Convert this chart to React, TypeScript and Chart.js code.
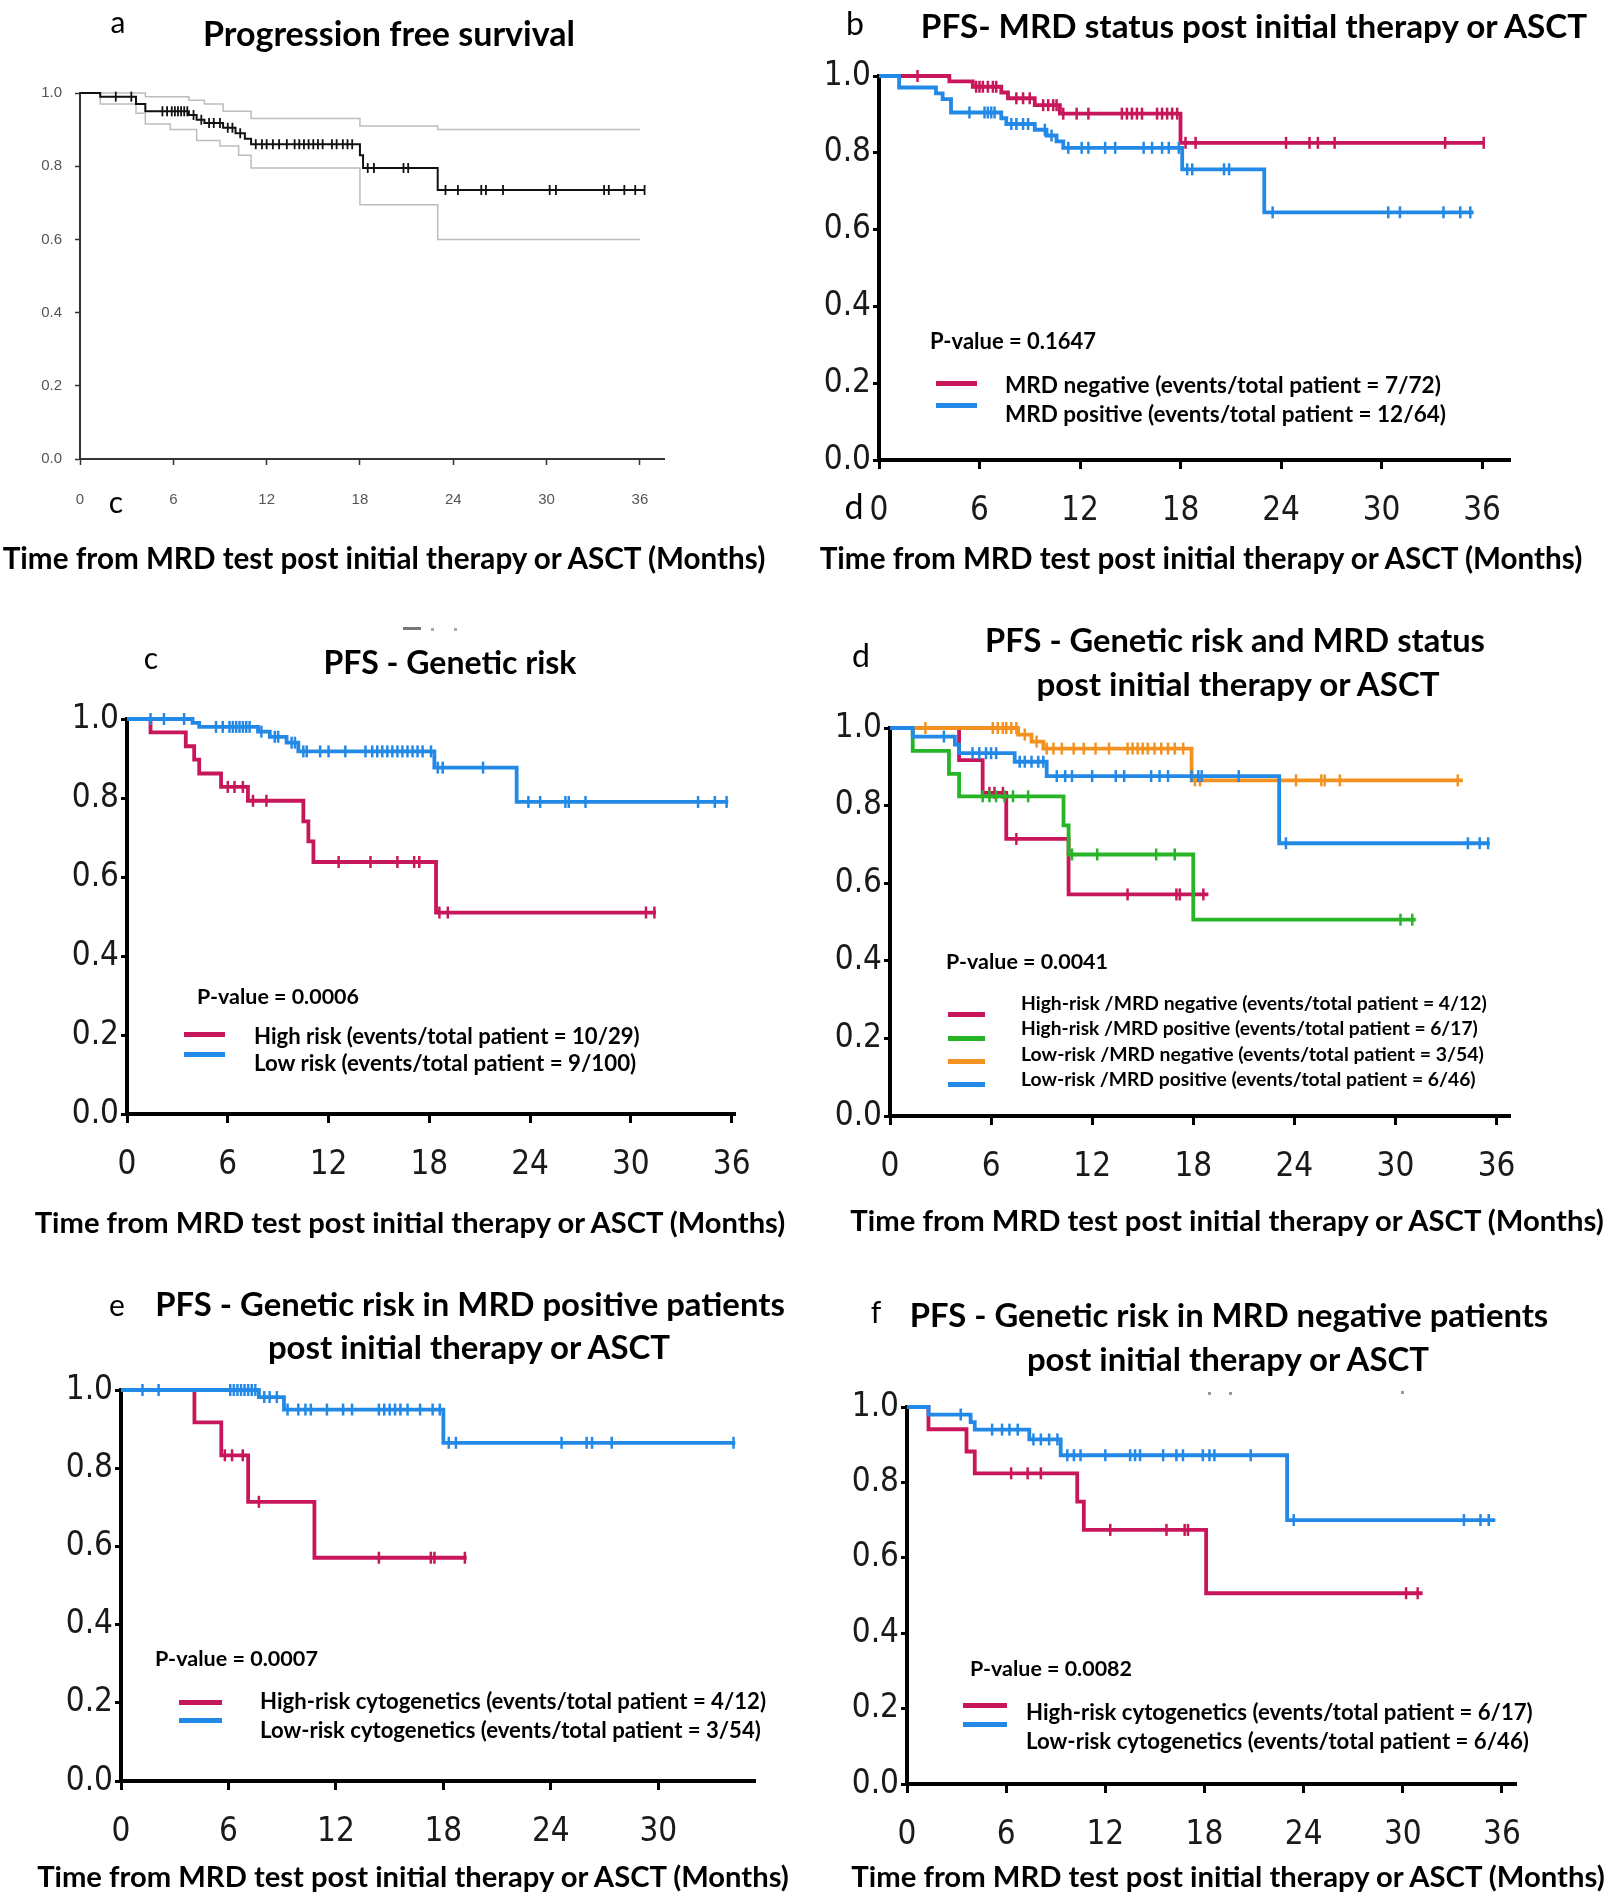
import React, { useEffect, useRef } from 'react';
import { Chart, registerables } from 'chart.js';

Chart.register(...registerables);

const PAGE_W = 1609;
const PAGE_H = 1894;
const YW = 80;
const XH = 90;

const RED = '#c8165a';
const BLUE = '#2389e6';
const GREEN = '#27b427';
const ORANGE = '#f39220';
const BLACK = '#111111';
const CI_GRAY = '#bdbdbd';
const SANS = "Lato, 'Open Sans', 'DejaVu Sans', sans-serif";

// ---------- Panel a: overall PFS ----------
const aEventTimes = [1.3, 3.6, 4.2, 7.0, 7.5, 8.0, 9.2, 10.0, 10.6, 11.0, 18.0, 18.2, 23.0];
const aEventSurv = [0.99, 0.97, 0.95, 0.94, 0.927, 0.918, 0.905, 0.89, 0.875, 0.86, 0.83, 0.795, 0.735];
const aCensorTimes = [2.3, 3.3, 5.3, 5.6, 5.9, 6.1, 6.3, 6.5, 6.7, 6.9, 7.3, 7.8, 8.3, 8.6, 9.0, 9.5, 9.8, 10.3, 11.3, 11.7, 12.0, 12.4, 12.8, 13.3, 13.8, 14.1, 14.4, 14.7, 15.0, 15.3, 15.6, 16.2, 16.5, 16.9, 17.2, 17.5, 18.5, 18.9, 20.8, 21.1, 23.5, 24.3, 25.8, 26.1, 27.2, 30.2, 30.6, 33.7, 34.0, 35.0, 35.7, 36.3];
const aEnd = 36.3;
const aUpperTimes = [4.2, 7.0, 8.0, 9.2, 11.0, 18.0, 23.0];
const aUpperSurv = [0.99, 0.98, 0.97, 0.95, 0.93, 0.91, 0.9];
const aLowerTimes = [1.3, 3.6, 4.2, 5.8, 7.5, 9.0, 10.2, 11.0, 18.0, 23.0];
const aLowerSurv = [0.97, 0.945, 0.915, 0.9, 0.87, 0.855, 0.83, 0.795, 0.695, 0.6];
const aCIEnd = 36.0;

// ---------- Panel b: MRD status ----------
const bNegTimes = [4.2, 5.6, 7.3, 7.7, 9.3, 10.8, 18.0];
const bNegSurv = [0.986, 0.972, 0.957, 0.942, 0.924, 0.902, 0.826];
const bNegCensor = [2.3, 5.8, 6.0, 6.2, 6.5, 6.8, 7.0, 8.2, 8.6, 9.0, 9.8, 10.1, 10.4, 10.6, 11.0, 11.8, 12.5, 14.5, 14.8, 15.1, 15.4, 15.7, 16.6, 16.9, 17.2, 17.5, 17.8, 18.3, 18.9, 24.3, 25.7, 26.2, 27.2, 33.8, 36.1];
const bNegEnd = 36.1;
const bPosTimes = [1.2, 3.4, 3.8, 4.3, 7.3, 7.6, 9.3, 10.0, 10.6, 11.0, 18.1, 23.0];
const bPosSurv = [0.97, 0.955, 0.94, 0.905, 0.89, 0.875, 0.86, 0.845, 0.83, 0.813, 0.757, 0.645];
const bPosCensor = [5.4, 6.3, 6.5, 6.7, 6.9, 7.9, 8.2, 8.6, 8.9, 9.9, 10.3, 11.3, 12.1, 12.5, 13.5, 14.1, 15.8, 16.3, 16.9, 17.3, 17.9, 18.4, 18.7, 20.6, 20.9, 23.5, 30.4, 31.1, 33.7, 34.7, 35.3];
const bPosEnd = 35.5;

// ---------- Panel c: genetic risk ----------
const cHighTimes = [1.4, 3.5, 4.0, 4.3, 5.6, 7.2, 10.5, 10.8, 11.1, 18.4];
const cHighSurv = [0.966, 0.931, 0.897, 0.862, 0.828, 0.793, 0.741, 0.69, 0.638, 0.51];
const cHighCensor = [6.0, 6.4, 6.9, 7.5, 8.3, 12.6, 14.5, 16.1, 17.1, 17.4, 18.6, 19.1, 30.9, 31.4];
const cHighEnd = 31.5;
const cLowTimes = [3.9, 4.3, 7.8, 8.5, 9.5, 10.2, 18.3, 23.2];
const cLowSurv = [0.99, 0.98, 0.968, 0.955, 0.94, 0.918, 0.877, 0.79];
const cLowCensor = [1.4, 2.2, 3.4, 5.3, 5.7, 6.1, 6.3, 6.5, 6.7, 6.9, 7.1, 7.3, 8.0, 8.8, 9.0, 9.8, 10.0, 10.5, 10.7, 11.5, 12.0, 13.0, 14.2, 14.6, 14.9, 15.2, 15.5, 15.8, 16.1, 16.4, 16.7, 17.0, 17.3, 17.6, 18.1, 18.5, 18.8, 21.2, 23.9, 24.6, 26.1, 26.3, 27.3, 34.0, 35.0, 35.7];
const cLowEnd = 35.8;

// ---------- Panel d: genetic risk x MRD ----------
const dHnTimes = [4.1, 5.5, 6.9, 10.6];
const dHnSurv = [0.917, 0.833, 0.714, 0.571];
const dHnCensor = [5.9, 6.2, 6.7, 7.5, 14.1, 17.0, 17.2, 18.6];
const dHnEnd = 18.9;
const dHpTimes = [1.35, 3.5, 4.1, 10.3, 10.6, 18.0];
const dHpSurv = [0.941, 0.882, 0.824, 0.749, 0.674, 0.506];
const dHpCensor = [5.5, 5.9, 6.3, 6.8, 7.3, 8.2, 10.8, 12.3, 15.8, 16.9, 30.3, 31.0];
const dHpEnd = 31.2;
const dLnTimes = [7.6, 8.4, 9.1, 17.9];
const dLnSurv = [0.983, 0.965, 0.947, 0.865];
const dLnCensor = [2.1, 6.1, 6.4, 6.7, 6.9, 7.2, 7.5, 8.0, 8.7, 9.3, 9.7, 10.2, 10.9, 11.5, 12.2, 13.0, 14.1, 14.4, 14.7, 15.0, 15.3, 15.7, 16.1, 16.5, 16.9, 17.4, 18.1, 18.4, 24.1, 25.6, 25.8, 26.7, 33.7];
const dLnEnd = 34.0;
const dLpTimes = [1.35, 3.85, 4.1, 7.4, 9.3, 23.1];
const dLpSurv = [0.978, 0.957, 0.935, 0.913, 0.876, 0.703];
const dLpCensor = [3.2, 4.9, 5.3, 5.7, 6.0, 6.3, 7.7, 8.0, 8.4, 8.8, 9.1, 9.9, 10.4, 10.8, 12.0, 13.4, 13.9, 15.5, 16.0, 16.5, 17.9, 18.3, 18.5, 20.7, 23.5, 34.3, 35.0, 35.5];
const dLpEnd = 35.6;

// ---------- Panel e: genetic risk in MRD positive ----------
const eHighTimes = [4.1, 5.6, 7.1, 10.8];
const eHighSurv = [0.917, 0.833, 0.714, 0.571];
const eHighCensor = [5.8, 6.2, 6.8, 7.7, 14.4, 17.3, 17.5, 19.2];
const eHighEnd = 19.3;
const eLowTimes = [7.7, 9.1, 18.0];
const eLowSurv = [0.982, 0.95, 0.865];
const eLowCensor = [1.2, 2.1, 6.1, 6.3, 6.5, 6.7, 6.9, 7.1, 7.3, 7.5, 8.0, 8.3, 8.7, 9.3, 9.9, 10.3, 10.6, 11.5, 12.4, 12.9, 14.4, 14.7, 15.0, 15.3, 15.6, 16.0, 16.7, 17.4, 17.8, 18.3, 18.7, 24.6, 26.0, 26.3, 27.4, 34.2];
const eLowEnd = 34.3;

// ---------- Panel f: genetic risk in MRD negative ----------
const fHighTimes = [1.3, 3.6, 4.1, 10.3, 10.7, 18.1];
const fHighSurv = [0.941, 0.882, 0.824, 0.749, 0.674, 0.506];
const fHighCensor = [6.3, 7.3, 8.1, 12.3, 15.7, 16.8, 17.0, 30.2, 30.9];
const fHighEnd = 31.2;
const fLowTimes = [1.3, 3.85, 4.1, 7.4, 9.3, 23.0];
const fLowSurv = [0.98, 0.96, 0.94, 0.914, 0.872, 0.7];
const fLowCensor = [3.25, 5.15, 5.75, 6.2, 6.7, 7.65, 8.1, 8.6, 9.1, 9.7, 10.1, 10.5, 12.0, 13.5, 13.8, 14.1, 15.5, 16.3, 16.7, 17.9, 18.3, 18.6, 20.8, 23.4, 33.7, 34.7, 35.2];
const fLowEnd = 35.6;

// ---------- helpers ----------
function survAt(t: number, times: number[], surv: number[]) {
  let s = 1;
  for (let i = 0; i < times.length; i++) if (times[i] <= t) s = surv[i];
  return s;
}
function kmPoints(times: number[], surv: number[], end: number) {
  const pts = [{ x: 0, y: 1 }];
  times.forEach((t, i) => pts.push({ x: t, y: surv[i] }));
  pts.push({ x: end, y: surv[surv.length - 1] });
  return pts;
}
function curve(times: number[], surv: number[], end: number, color: string, width: number) {
  return {
    type: 'line',
    data: kmPoints(times, surv, end),
    borderColor: color,
    backgroundColor: color,
    borderWidth: width,
    stepped: 'before',
    pointRadius: 0,
    fill: false,
    clip: false,
    tension: 0,
  };
}
function censors(cens: number[], times: number[], surv: number[], color: string, radius: number, width: number) {
  return {
    type: 'line',
    data: cens.map((t) => ({ x: t, y: survAt(t, times, surv) })),
    showLine: false,
    pointStyle: 'line',
    pointRotation: 90,
    pointRadius: radius,
    pointBorderColor: color,
    pointBackgroundColor: color,
    pointBorderWidth: width,
    clip: false,
  };
}

interface PanelSpec {
  left: number;
  top: number;
  right: number;
  bottom: number;
  xMax: number;
  big: boolean;
  datasets: any[];
}

function kmPair(times: number[], surv: number[], cens: number[], end: number, color: string) {
  return [curve(times, surv, end, color, 3.8), censors(cens, times, surv, color, 6, 2.5)];
}

const panels: PanelSpec[] = [
  {
    left: 80, top: 93, right: 664, bottom: 459, xMax: 37.55, big: false,
    datasets: [
      curve(aEventTimes, aEventSurv, aEnd, BLACK, 2),
      censors(aCensorTimes, aEventTimes, aEventSurv, BLACK, 5, 1.8),
      curve(aUpperTimes, aUpperSurv, aCIEnd, CI_GRAY, 1.5),
      curve(aLowerTimes, aLowerSurv, aCIEnd, CI_GRAY, 1.5),
    ],
  },
  {
    left: 879, top: 76, right: 1510, bottom: 460, xMax: 37.67, big: true,
    datasets: [
      ...kmPair(bPosTimes, bPosSurv, bPosCensor, bPosEnd, BLUE),
      ...kmPair(bNegTimes, bNegSurv, bNegCensor, bNegEnd, RED),
    ],
  },
  {
    left: 127, top: 719, right: 735, bottom: 1114, xMax: 36.2, big: true,
    datasets: [
      ...kmPair(cLowTimes, cLowSurv, cLowCensor, cLowEnd, BLUE),
      ...kmPair(cHighTimes, cHighSurv, cHighCensor, cHighEnd, RED),
    ],
  },
  {
    left: 890, top: 728, right: 1510, bottom: 1116, xMax: 36.8, big: true,
    datasets: [
      ...kmPair(dLpTimes, dLpSurv, dLpCensor, dLpEnd, BLUE),
      ...kmPair(dLnTimes, dLnSurv, dLnCensor, dLnEnd, ORANGE),
      ...kmPair(dHpTimes, dHpSurv, dHpCensor, dHpEnd, GREEN),
      ...kmPair(dHnTimes, dHnSurv, dHnCensor, dHnEnd, RED),
    ],
  },
  {
    left: 121, top: 1390, right: 755, bottom: 1781, xMax: 35.4, big: true,
    datasets: [
      ...kmPair(eLowTimes, eLowSurv, eLowCensor, eLowEnd, BLUE),
      ...kmPair(eHighTimes, eHighSurv, eHighCensor, eHighEnd, RED),
    ],
  },
  {
    left: 907, top: 1407, right: 1516, bottom: 1784, xMax: 36.85, big: true,
    datasets: [
      ...kmPair(fLowTimes, fLowSurv, fLowCensor, fLowEnd, BLUE),
      ...kmPair(fHighTimes, fHighSurv, fHighCensor, fHighEnd, RED),
    ],
  },
];

function makeOptions(p: PanelSpec): any {
  const big = p.big;
  const tickFont = big
    ? { family: "'Liberation Sans Narrow', 'DejaVu Sans Condensed', sans-serif", size: 33 }
    : { family: "'Liberation Sans', Arial, sans-serif", size: 15 };
  const axisColor = big ? '#000' : '#333';
  const tickColor = big ? '#1a1a1a' : '#555';
  return {
    responsive: false,
    maintainAspectRatio: false,
    animation: false,
    devicePixelRatio: 1,
    events: [],
    layout: {
      padding: { left: p.left - YW, top: p.top, right: PAGE_W - p.right, bottom: PAGE_H - p.bottom - XH },
    },
    plugins: { legend: { display: false }, tooltip: { enabled: false }, title: { display: false } },
    scales: {
      x: {
        type: 'linear',
        min: 0,
        max: p.xMax,
        afterFit: (s: any) => { s.height = XH; },
        ticks: {
          stepSize: 6,
          includeBounds: false,
          autoSkip: false,
          maxRotation: 0,
          minRotation: 0,
          font: tickFont,
          color: tickColor,
          padding: big ? 23 : 26,
          callback: (v: any) => String(Math.round(Number(v))),
        },
        grid: {
          drawOnChartArea: false,
          drawTicks: true,
          tickLength: big ? 9 : 6,
          tickWidth: big ? 3 : 1.5,
          tickColor: axisColor,
          color: axisColor,
        },
        border: { display: true, color: axisColor, width: big ? 4 : 2 },
      },
      y: {
        type: 'linear',
        min: 0,
        max: 1,
        afterFit: (s: any) => { s.width = YW; },
        ticks: {
          stepSize: 0.2,
          autoSkip: false,
          font: tickFont,
          color: tickColor,
          padding: big ? 2 : 13,
          callback: (v: any) => Number(v).toFixed(1),
        },
        grid: {
          drawOnChartArea: false,
          drawTicks: true,
          tickLength: big ? 6 : 5,
          tickWidth: big ? 3 : 1.5,
          tickColor: axisColor,
          color: axisColor,
        },
        border: { display: true, color: axisColor, width: big ? 4 : 2 },
      },
    },
  };
}

function KMChart({ spec }: { spec: PanelSpec }) {
  const ref = useRef<HTMLCanvasElement | null>(null);
  useEffect(() => {
    if (!ref.current) return;
    const chart = new Chart(ref.current, {
      type: 'line',
      data: { datasets: spec.datasets as any },
      options: makeOptions(spec),
    } as any);
    return () => chart.destroy();
  }, [spec]);
  return (
    <canvas
      ref={ref}
      width={PAGE_W}
      height={PAGE_H}
      style={{ position: 'absolute', left: 0, top: 0, width: PAGE_W, height: PAGE_H }}
    />
  );
}

let measureCtx: CanvasRenderingContext2D | null = null;
function fitSize(text: string, weight: number, family: string, target: number) {
  if (!measureCtx) measureCtx = document.createElement('canvas').getContext('2d');
  if (!measureCtx) return 24;
  measureCtx.font = `${weight} 100px ${family}`;
  const w = measureCtx.measureText(text).width;
  return (100 * target) / w;
}

function Label(props: {
  text: string; x: number; y: number; w?: number; size?: number; weight?: number;
  anchor?: 'center' | 'left'; color?: string; family?: string;
}) {
  const { text, x, y, w, size = 24, weight = 700, anchor = 'center', color = '#000', family = SANS } = props;
  const fs = w ? fitSize(text, weight, family, w) : size;
  return (
    <div
      style={{
        position: 'absolute',
        left: x,
        top: y - fs * 0.53,
        transform: anchor === 'center' ? 'translateX(-50%)' : undefined,
        fontFamily: family,
        fontSize: fs,
        lineHeight: `${fs}px`,
        fontWeight: weight,
        color,
        whiteSpace: 'nowrap',
      }}
    >
      {text}
    </div>
  );
}

function LegendLine({ x1, x2, y, color }: { x1: number; x2: number; y: number; color: string }) {
  return <div style={{ position: 'absolute', left: x1, top: y - 2.5, width: x2 - x1, height: 5, background: color }} />;
}

const AXIS_TITLE = 'Time from MRD test post initial therapy or ASCT (Months)';

export default function App() {
  return (
    <div style={{ position: 'absolute', left: 0, top: 0, width: PAGE_W, height: PAGE_H, background: '#fff', overflow: 'hidden' }}>
      {panels.map((p, i) => (
        <KMChart key={i} spec={p} />
      ))}

      {/* Panel a */}
      <Label text="a" x={118} y={22} size={30} weight={400} />
      <Label text="Progression free survival" x={389} y={34} w={372} />
      <Label text="c" x={116} y={502} size={30} weight={400} />
      <Label text={AXIS_TITLE} x={384} y={559} w={766} weight={700} />

      {/* Panel b */}
      <Label text="b" x={855} y={24} size={32} weight={400} />
      <Label text="PFS- MRD status post initial therapy or ASCT" x={1254} y={27} w={669} />
      <Label text="d" x={854} y={507} size={34} weight={400} />
      <Label text={AXIS_TITLE} x={1201} y={559} w={766} weight={700} />
      <Label text="P-value = 0.1647" x={930} y={342} w={166} anchor="left" />
      <LegendLine x1={936} x2={977} y={383} color={RED} />
      <LegendLine x1={936} x2={977} y={405} color={BLUE} />
      <Label text="MRD negative (events/total patient = 7/72)" x={1005} y={386} w={436} anchor="left" weight={700} />
      <Label text="MRD positive (events/total patient = 12/64)" x={1005} y={415} w={441} anchor="left" weight={700} />

      {/* Panel c */}
      <div style={{ position: 'absolute', left: 403, top: 627, width: 18, height: 3, background: '#777' }} />
      <div style={{ position: 'absolute', left: 431, top: 628, width: 3, height: 3, background: '#aaa' }} />
      <div style={{ position: 'absolute', left: 454, top: 628, width: 3, height: 3, background: '#aaa' }} />
      <Label text="c" x={151} y={658} size={30} weight={400} />
      <Label text="PFS - Genetic risk" x={450} y={663} w={253} />
      <Label text={AXIS_TITLE} x={410} y={1222} w={754} weight={700} />
      <Label text="P-value = 0.0006" x={197} y={997} w={162} anchor="left" />
      <LegendLine x1={184} x2={225} y={1034} color={RED} />
      <LegendLine x1={184} x2={225} y={1054} color={BLUE} />
      <Label text="High risk (events/total patient = 10/29)" x={254} y={1037} w={386} anchor="left" weight={700} />
      <Label text="Low risk (events/total patient = 9/100)" x={254} y={1064} w={383} anchor="left" weight={700} />

      {/* Panel d */}
      <Label text="d" x={861} y={656} size={32} weight={400} />
      <Label text="PFS - Genetic risk and MRD status" x={1235} y={641} w={500} />
      <Label text="post initial therapy or ASCT" x={1238} y={685} w={406} />
      <Label text={AXIS_TITLE} x={1227} y={1221} w={757} weight={700} />
      <Label text="P-value = 0.0041" x={946} y={962} w={162} anchor="left" />
      <LegendLine x1={948} x2={985} y={1014} color={RED} />
      <LegendLine x1={948} x2={985} y={1038} color={GREEN} />
      <LegendLine x1={948} x2={985} y={1061} color={ORANGE} />
      <LegendLine x1={948} x2={985} y={1084} color={BLUE} />
      <Label text="High-risk /MRD negative (events/total patient = 4/12)" x={1021} y={1003} w={466} anchor="left" weight={700} />
      <Label text="High-risk /MRD positive (events/total patient = 6/17)" x={1021} y={1028} w={457} anchor="left" weight={700} />
      <Label text="Low-risk /MRD negative (events/total patient = 3/54)" x={1021} y={1054} w={463} anchor="left" weight={700} />
      <Label text="Low-risk /MRD positive (events/total patient = 6/46)" x={1021} y={1079} w={455} anchor="left" weight={700} />

      {/* Panel e */}
      <Label text="e" x={117} y={1305} size={30} weight={400} />
      <Label text="PFS - Genetic risk in MRD positive patients" x={470} y={1305} w={630} />
      <Label text="post initial therapy or ASCT" x={469} y={1347} w={405} />
      <Label text={AXIS_TITLE} x={413} y={1876} w={755} weight={700} />
      <Label text="P-value = 0.0007" x={155} y={1659} w={163} anchor="left" />
      <LegendLine x1={179} x2={222} y={1702} color={RED} />
      <LegendLine x1={179} x2={222} y={1720} color={BLUE} />
      <Label text="High-risk cytogenetics (events/total patient = 4/12)" x={260} y={1702} w={506} anchor="left" weight={700} />
      <Label text="Low-risk cytogenetics (events/total patient = 3/54)" x={260} y={1731} w={501} anchor="left" weight={700} />

      {/* Panel f */}
      <div style={{ position: 'absolute', left: 1208, top: 1392, width: 3, height: 3, background: '#999' }} />
      <div style={{ position: 'absolute', left: 1229, top: 1392, width: 3, height: 3, background: '#999' }} />
      <div style={{ position: 'absolute', left: 1401, top: 1391, width: 3, height: 3, background: '#999' }} />
      <Label text="f" x={876} y={1312} size={30} weight={400} />
      <Label text="PFS - Genetic risk in MRD negative patients" x={1229} y={1316} w={639} />
      <Label text="post initial therapy or ASCT" x={1228} y={1359} w={405} />
      <Label text={AXIS_TITLE} x={1228} y={1877} w={757} weight={700} />
      <Label text="P-value = 0.0082" x={970} y={1669} w={162} anchor="left" />
      <LegendLine x1={963} x2={1007} y={1705} color={RED} />
      <LegendLine x1={963} x2={1007} y={1724} color={BLUE} />
      <Label text="High-risk cytogenetics (events/total patient = 6/17)" x={1026} y={1713} w={507} anchor="left" weight={700} />
      <Label text="Low-risk cytogenetics (events/total patient = 6/46)" x={1026} y={1742} w={503} anchor="left" weight={700} />
    </div>
  );
}
